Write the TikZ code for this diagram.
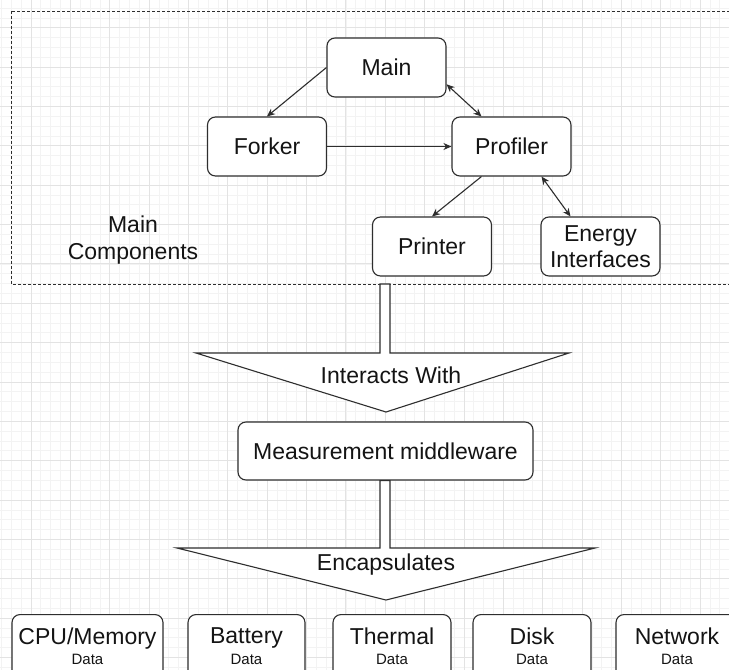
\documentclass[tikz,border=0pt]{standalone}
\usepackage{fontspec}
\setmainfont{Liberation Sans}
\usetikzlibrary{arrows.meta,calc}
\definecolor{gridmajor}{HTML}{E3E3E3}
\definecolor{gridminor}{HTML}{F3F3F3}
\definecolor{ink}{HTML}{2E2E2E}
\definecolor{txt}{HTML}{141414}
\newcommand{\datalabel}{\fontsize{15}{18}\selectfont Data}
\begin{document}
\begin{tikzpicture}[x=1pt,y=-1pt,
  box/.style={draw=ink, line width=1.1pt, fill=white, rounded corners=8pt,
    minimum width=119pt, minimum height=59pt, inner sep=0pt, align=center,
    font=\fontsize{23}{26.5}\selectfont, text=txt},
  databox/.style={box, minimum height=63pt, anchor=north},
  tip/.tip={Stealth[length=8pt,width=7pt,inset=2.5pt]},
  link/.style={draw=ink, line width=1.1pt, -tip},
  both/.style={draw=ink, line width=1.1pt, tip-tip},
  bigarrow/.style={draw=ink, line width=1.1pt, fill=white, line join=miter},
  caption/.style={font=\fontsize{23}{26.5}\selectfont, text=txt, align=center, inner sep=0pt},
  gminor/.style={draw=gridminor, line width=0.7pt},
  gmajor/.style={draw=gridmajor, line width=0.8pt},
]
\useasboundingbox (0,0) rectangle (729,670);
\clip (0,0) rectangle (729,670);
\fill[white] (0,0) rectangle (729,670);

% background grid
\foreach \k in {-3,...,72} \draw[gminor] ({31+9.84*\k},0) -- ++(0,670);
\foreach \k in {-2,...,68} \draw[gminor] (0,{27.7+9.84*\k}) -- ++(729,0);
\foreach \k in {0,...,18} \draw[gmajor] ({31+39.36*\k},0) -- ++(0,670);
\foreach \k in {-1,...,17} \draw[gmajor] (0,{27.7+39.36*\k}) -- ++(729,0);

% container of the main components
\draw[draw=ink, line width=0.9pt, dash pattern=on 3pt off 2pt] (11,11) rectangle (745,284);
\node[caption] (maincomp) at (133,240) {Main\\Components};

% components
\node[box] (main) at (386.5,67.5) {Main};
\node[box] (forker) at (267,146.5) {Forker};
\node[box] (profiler) at (511.5,146.5) {Profiler};
\node[box] (printer) at (432,246.5) {Printer};
\node[box] (energy) at (600.5,246.5) {Energy\\Interfaces};

\draw[link] (main.west) -- (forker.north);
\draw[both] ($(main.north east)!0.78!(main.south east)$) -- ($(profiler.north west)!0.25!(profiler.north east)$);
\draw[link] (forker.east) -- (profiler.west);
\draw[link] ($(profiler.south west)!0.25!(profiler.south east)$) -- (printer.north);
\draw[both] ($(profiler.south west)!0.75!(profiler.south east)$) -- ($(energy.north west)!0.25!(energy.north east)$);

% "Interacts With" block arrow
\draw[bigarrow] (380,284) -- (390,284) -- (390,353) -- (569,353) -- (386,412)
  -- (196,353) -- (380,353) -- cycle;
\node[caption] (interacts) at (391,375) {Interacts With};

\node[box, minimum width=295pt, minimum height=58pt] (mw) at (385.5,451) {Measurement middleware};

% "Encapsulates" block arrow
\draw[bigarrow] ($(mw.south)+(-5.5,0)$) -- ($(mw.south)+(4.5,0)$) -- (390,548) -- (595,548)
  -- (386,600) -- (177,548) -- (380,548) -- cycle;
\node[caption] (encaps) at (386,565) {Encapsulates};

% data sources
\node[databox, minimum width=151pt] (cpu) at (87.5,614) {CPU/Memory\\[-6pt]{\datalabel}};
\node[databox, minimum width=117pt] (battery) at (246.5,614) {Battery\\[-6pt]{\datalabel}};
\node[databox, minimum width=118pt] (thermal) at (392,614) {Thermal\\[-6pt]{\datalabel}};
\node[databox, minimum width=118pt] (disk) at (532,614) {Disk\\[-6pt]{\datalabel}};
\node[databox, minimum width=122pt] (network) at (677,614) {Network\\[-6pt]{\datalabel}};
\end{tikzpicture}
\end{document}
